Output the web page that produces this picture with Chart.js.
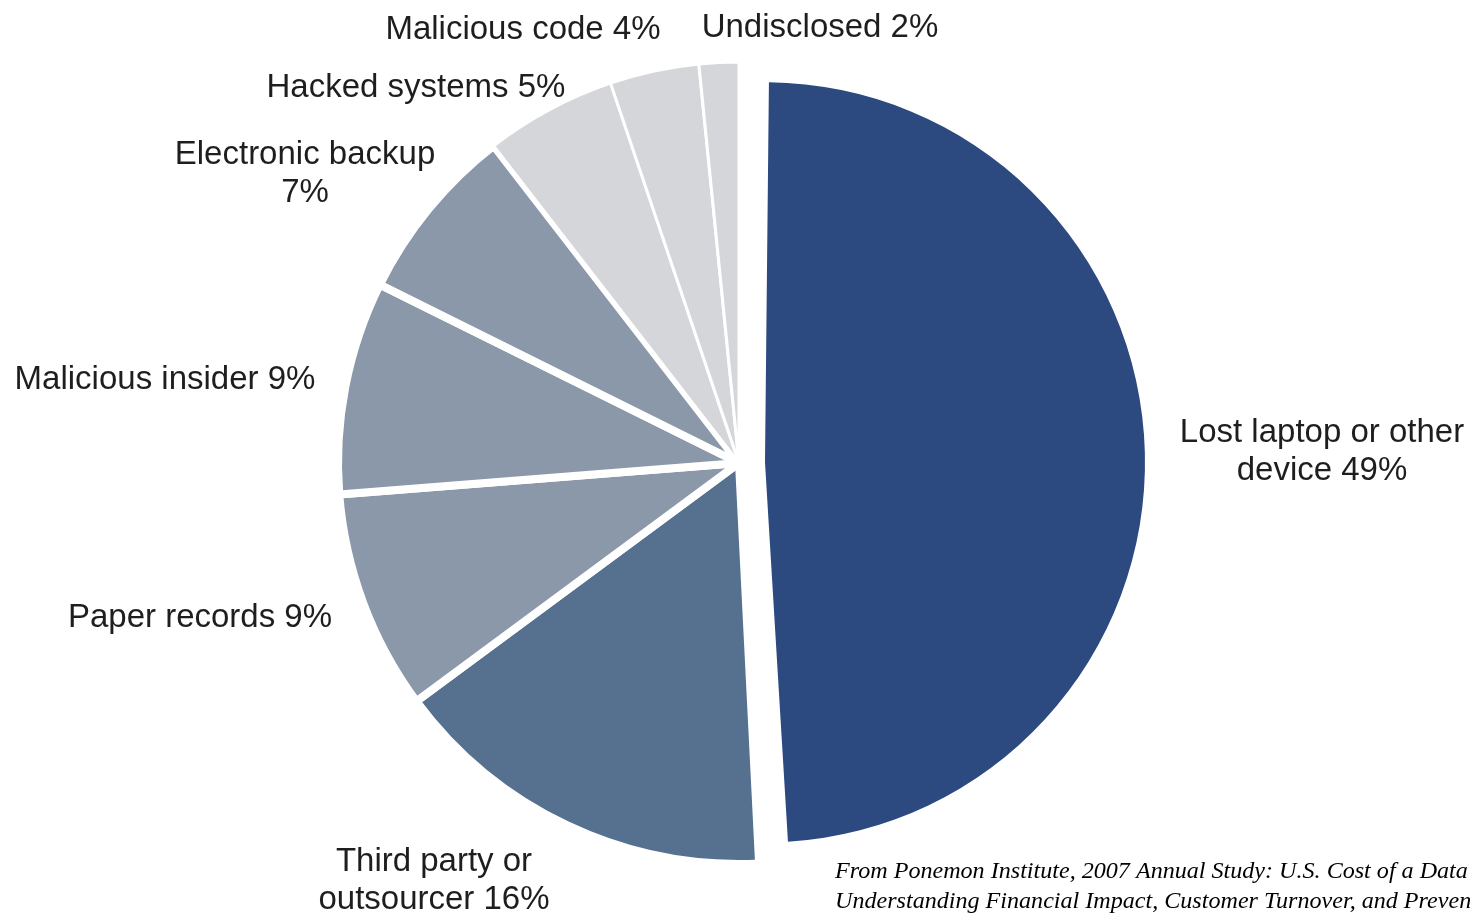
<!DOCTYPE html>
<html>
<head>
<meta charset="utf-8">
<script src="https://cdn.jsdelivr.net/npm/chart.js@4.4.1/dist/chart.umd.min.js"></script>
<style>
html,body{margin:0;padding:0;background:#ffffff;overflow:hidden}
canvas{display:block}
</style>
</head>
<body>
<canvas id="c" width="1470" height="917"></canvas>
<script>
// ---- data ----
const categories = [
  "Lost laptop or other device",
  "Third party or outsourcer",
  "Paper records",
  "Malicious insider",
  "Electronic backup",
  "Hacked systems",
  "Malicious code",
  "Undisclosed"
];
const values = [49.3, 15.7, 8.9, 8.6, 7.2, 5.3, 3.6, 1.6];
const sourceNote = [
  "From Ponemon Institute, 2007 Annual Study: U.S. Cost of a Data Breach:",
  "Understanding Financial Impact, Customer Turnover, and Preventative Measures"
];

// ---- style / layout ----
const sliceColors = ["#2c4a80", "#55718f", "#8b98aa", "#8b98aa", "#8b98aa", "#d5d6da", "#d5d6da", "#d5d6da"];
const sliceBorders = [0, 8, 8, 8, 8, 3, 3, 3];
const sliceOffsets = [104, 0, 0, 0, 0, 0, 0, 0];
const PIE_RADIUS = 401;
const EXPLODED_RADIUS = 380;
// label centre x, first line centre y, words on first line (0 = single line)
const labelLayout = [
  {x: 1322, y: 433, wrap: 4},
  {x: 434, y: 862, wrap: 3},
  {x: 200, y: 618, wrap: 0},
  {x: 165, y: 380, wrap: 0},
  {x: 305, y: 155, wrap: 2},
  {x: 416, y: 88, wrap: 0},
  {x: 523, y: 30, wrap: 0},
  {x: 820, y: 28, wrap: 0}
];
const LINE_H = 38;

// Chart.js grows an offset arc's radius by (offset/4)*(1-sin(circumference));
// compensate so the exploded slice is drawn at EXPLODED_RADIUS.
const explodedRadiusPlugin = {
  id: 'explodedRadius',
  beforeDatasetsDraw(chart) {
    const arc = chart.getDatasetMeta(0).data[0];
    if (!arc) return;
    const off = sliceOffsets[0] / 4;
    const fix = 1 - Math.sin(Math.min(Math.PI, arc.circumference));
    arc.outerRadius = EXPLODED_RADIUS - off * fix;
  }
};

const textPlugin = {
  id: 'sliceText',
  afterDraw(chart) {
    const ctx = chart.ctx;
    ctx.save();
    ctx.fillStyle = "#1e1e1e";
    ctx.font = '33px "Liberation Sans", Arial, sans-serif';
    ctx.textAlign = "center";
    ctx.textBaseline = "middle";
    categories.forEach((cat, i) => {
      const L = labelLayout[i];
      const full = cat + " " + Math.round(values[i]) + "%";
      const words = full.split(" ");
      let lines = [full];
      if (L.wrap > 0) lines = [words.slice(0, L.wrap).join(" "), words.slice(L.wrap).join(" ")];
      lines.forEach((ln, k) => ctx.fillText(ln, L.x, L.y + k * LINE_H));
    });
    ctx.fillStyle = "#000000";
    ctx.font = 'italic 24.1px "Liberation Serif", "Times New Roman", serif';
    ctx.textAlign = "left";
    sourceNote.forEach((ln, k) => ctx.fillText(ln, 835, 872 + k * 30));
    ctx.restore();
  }
};

new Chart(document.getElementById("c"), {
  type: "pie",
  data: {
    labels: categories,
    datasets: [{
      data: values,
      backgroundColor: sliceColors,
      borderColor: "#ffffff",
      borderWidth: sliceBorders,
      offset: sliceOffsets,
      radius: PIE_RADIUS
    }]
  },
  options: {
    responsive: false,
    animation: false,
    layout: {padding: {left: 8, right: 0, top: 9, bottom: 0}},
    plugins: {legend: {display: false}, tooltip: {enabled: false}}
  },
  plugins: [explodedRadiusPlugin, textPlugin]
});
</script>
</body>
</html>
